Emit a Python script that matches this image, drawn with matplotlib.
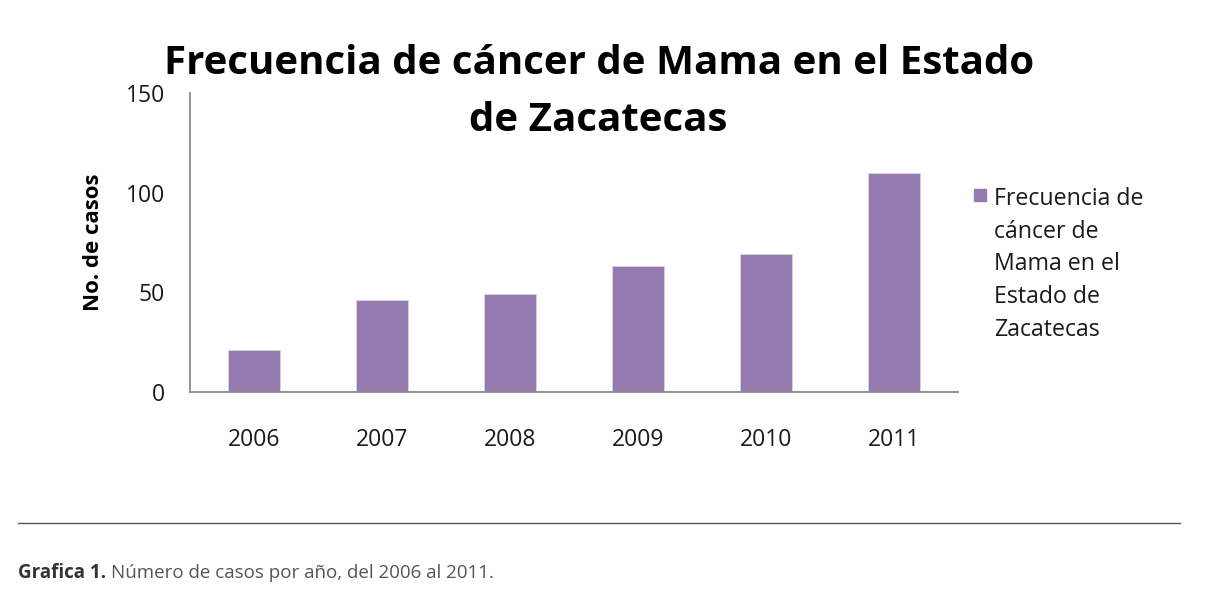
#!/usr/bin/env python3
"""Frecuencia de cancer de mama en Zacatecas, 2006-2011."""

import matplotlib
matplotlib.use("Agg")
import matplotlib.pyplot as plt
from matplotlib.lines import Line2D

years = ["2006", "2007", "2008", "2009", "2010", "2011"]
cases = [21, 46, 49, 63, 69, 110]
y_ticks = [0, 50, 100, 150]

TITLE = "Frecuencia de cáncer de Mama en el Estado\nde Zacatecas"
SERIES = "Frecuencia de\ncáncer de\nMama en el\nEstado de\nZacatecas"
BAR_COLOR = "#967bb1"

plt.rcParams["font.family"] = ["Open Sans", "DejaVu Sans"]

fig = plt.figure(figsize=(12.07, 6.11), dpi=100)
ax = fig.add_axes([0.1574, 0.3584, 0.6363, 0.4894])

x = range(len(years))
ax.bar(x, cases, width=0.4, color=BAR_COLOR, edgecolor="#ddd0ea", linewidth=0.6,
       label=SERIES)
ax.set_xlim(-0.5, len(years) - 0.5)
ax.set_ylim(0, 150)
ax.set_yticks(y_ticks)
ax.set_xticks(list(x))
ax.set_xticklabels(years)
ax.tick_params(length=0, labelsize=16.5, colors="#1a1a1a")
ax.tick_params(axis="x", pad=26)
ax.tick_params(axis="y", pad=18)
for side in ("top", "right"):
    ax.spines[side].set_visible(False)
for side in ("left", "bottom"):
    ax.spines[side].set_color("#8c8c8c")
    ax.spines[side].set_linewidth(1.3)

ax.set_ylabel("No. de casos", fontsize=16, fontweight="bold", labelpad=16)

fig.text(0.496, 1 - 92 / 611, TITLE, ha="center", va="center", fontsize=29,
         fontweight="bold", linespacing=1.6, color="#000000")

handle = Line2D([], [], marker="s", linestyle="none", markersize=8.2,
                markerfacecolor=BAR_COLOR, markeredgecolor=BAR_COLOR)
leg = fig.legend([handle], [SERIES], loc="upper left",
                 bbox_to_anchor=(0.789, 0.728), frameon=False,
                 fontsize=16.7, handlelength=0.6, handletextpad=0.3,
                 labelspacing=0.2)
# put the square next to the first line of the label
leg._legend_handle_box.get_children()[0].get_children()[0].align = "top"
for t in leg.get_texts():
    t.set_linespacing(1.48)
    t.set_color("#1a1a1a")

fig.add_artist(Line2D([0.015, 0.978], [1 - 523 / 611, 1 - 523 / 611],
                      color="#555555", linewidth=1.0))
cap_y = 1 - 573 / 611
t1 = fig.text(0.015, cap_y, "Grafica 1.", ha="left", va="center", fontsize=13.5,
              fontweight="bold", color="#333333")
fig.canvas.draw()
bb = t1.get_window_extent()
fig.text(bb.x1 / fig.bbox.width + 0.004, cap_y,
         "Número de casos por año, del 2006 al 2011.", ha="left", va="center",
         fontsize=13.5, color="#555555")

fig.savefig("out.png", dpi=100)
